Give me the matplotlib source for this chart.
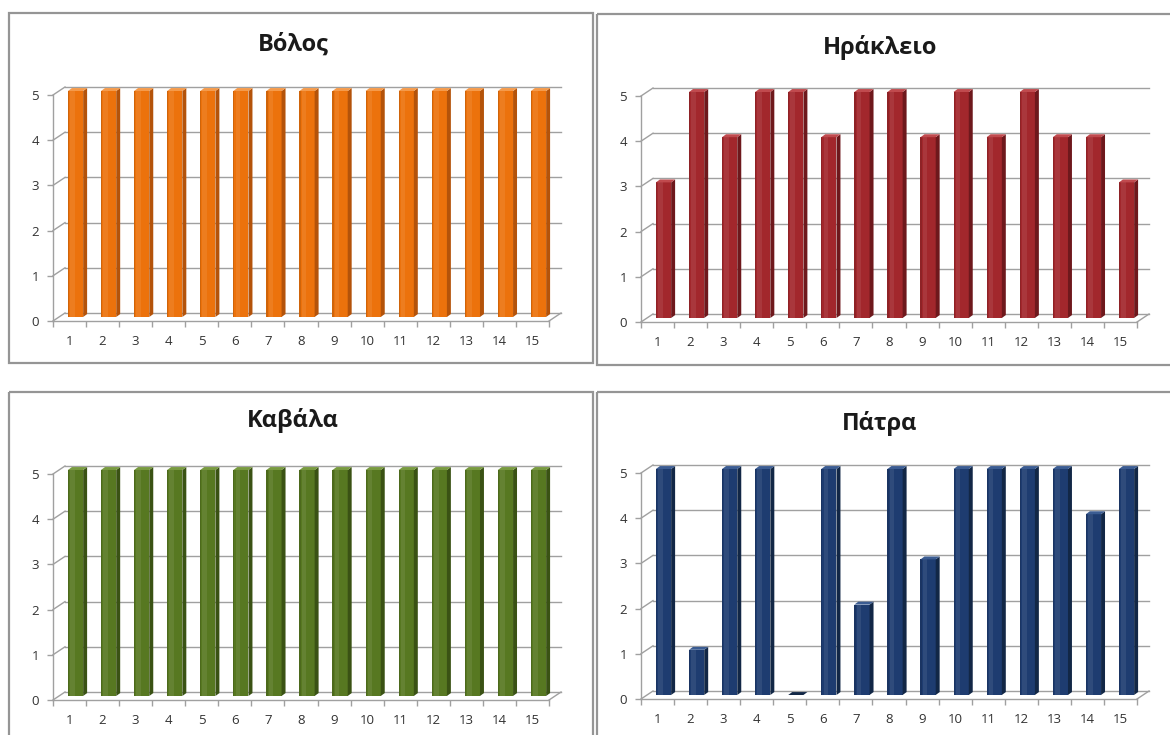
import matplotlib
matplotlib.use("Agg")
import matplotlib.pyplot as plt
from matplotlib.patches import Polygon, Rectangle
import numpy as np

# ---- data -------------------------------------------------------------
categories = list(range(1, 16))
volos = [5, 5, 5, 5, 5, 5, 5, 5, 5, 5, 5, 5, 5, 5, 5]
irakleio = [3, 5, 4, 5, 5, 4, 5, 5, 4, 5, 4, 5, 4, 4, 3]
kavala = [5, 5, 5, 5, 5, 5, 5, 5, 5, 5, 5, 5, 5, 5, 5]
patra = [5, 1, 5, 5, 0, 5, 2, 5, 3, 5, 5, 5, 5, 4, 5]
titles = ["Βόλος", "Ηράκλειο", "Καβάλα", "Πάτρα"]
y_ticks = [0, 1, 2, 3, 4, 5]

# front / side / top colours per city
palettes = [
    ("#EC720C", "#B4530A", "#F59A4A"),
    ("#A2272C", "#6E181C", "#C04A4E"),
    ("#577821", "#3A5214", "#789A40"),
    ("#1E3C70", "#122746", "#3B5C92"),
]

W, H = 1170, 735
fig = plt.figure(figsize=(W / 100, H / 100), dpi=100)
fig.patch.set_facecolor("white")
FONT = ["Open Sans", "DejaVu Sans"]

# frame layer in pixel coordinates
bg = fig.add_axes([0, 0, 1, 1])
bg.set_xlim(0, W)
bg.set_ylim(H, 0)
bg.axis("off")
frames = [(9, 13, 593, 363), (597, 14, 1173, 365), (9, 392, 593, 745), (597, 392, 1173, 745)]
for x0, y0, x1, y1 in frames:
    bg.add_patch(Rectangle((x0, y0), x1 - x0, y1 - y0, fill=False,
                           edgecolor="#959595", lw=1.6))

# geometry of each plot (front axis x, front zero y, title centre)
panels = [
    (53, 321, (293, 45)),
    (641, 322, (880, 47)),
    (53, 700, (293, 421)),
    (641, 699, (880, 423)),
]
series = [volos, irakleio, kavala, patra]

PX_CAT = 33.07   # pixels per category
PX_VAL = 45.2    # pixels per unit value
DEPTH_X, DEPTH_Y = 12, 8  # wall depth offset in pixels
dxd = DEPTH_X / PX_CAT
dyd = DEPTH_Y / PX_VAL
grid_col = "#A0A0A0"
ymax = y_ticks[-1]

for (ax0, y0, (tx, ty)), vals, title, (c_front, c_side, c_top) in zip(panels, series, titles, palettes):
    n = len(categories)
    width_px = n * PX_CAT + DEPTH_X
    height_px = ymax * PX_VAL + DEPTH_Y
    ax = fig.add_axes([ax0 / W, (H - y0) / H, width_px / W, height_px / H])
    ax.set_xlim(0.5, n + 0.5 + dxd)
    ax.set_ylim(0, ymax + dyd)
    ax.patch.set_alpha(0)

    # back wall gridlines and their diagonal links to the front axis
    for k in y_ticks:
        ax.plot([0.5 + dxd, n + 0.5 + dxd], [k + dyd, k + dyd], color=grid_col, lw=1.0, zorder=1, clip_on=False)
        ax.plot([0.5, 0.5 + dxd], [k, k + dyd], color=grid_col, lw=1.0, zorder=1, clip_on=False)
    # floor right edge
    ax.plot([n + 0.5, n + 0.5 + dxd], [0, dyd], color=grid_col, lw=1.0, zorder=1, clip_on=False)

    # bars: front faces, right sides and tops
    x = np.array(categories, dtype=float) + dxd / 2
    v = np.array(vals, dtype=float)
    bw = 0.46
    sdx, sdy = 0.12, 0.065
    ax.bar(x, v, width=bw, bottom=dyd / 2, color=c_front, edgecolor="none", zorder=3)
    for xi, vi in zip(x, v):
        xr = xi + bw / 2
        xl = xi - bw / 2
        base = dyd / 2
        top = base + vi
        ax.add_patch(Polygon([(xr, base), (xr + sdx, base + sdy), (xr + sdx, top + sdy), (xr, top)],
                             closed=True, facecolor=c_side, edgecolor="none", zorder=3))
        ax.add_patch(Polygon([(xl, top), (xr, top), (xr + sdx, top + sdy), (xl + sdx, top + sdy)],
                             closed=True, facecolor=c_top if vi > 0 else c_side, edgecolor="none", zorder=4))
        if vi > 0:
            # soft highlight and shaded left rim on the front face
            ax.add_patch(Rectangle((xl + bw * 0.15, base), bw * 0.3, vi, facecolor="white",
                                   alpha=0.08, edgecolor="none", zorder=3.5))
            ax.add_patch(Rectangle((xl, base), bw * 0.08, vi, facecolor="black",
                                   alpha=0.12, edgecolor="none", zorder=3.5))

    # axes lines
    for s in ("top", "right"):
        ax.spines[s].set_visible(False)
    ax.spines["left"].set_bounds(0, ymax)
    ax.spines["bottom"].set_bounds(0.5, n + 0.5)
    for s in ("left", "bottom"):
        ax.spines[s].set_color(grid_col)
        ax.spines[s].set_linewidth(1.0)
        ax.spines[s].set_zorder(2)

    ax.set_yticks(y_ticks)
    ax.set_yticklabels([str(t) for t in y_ticks], family=FONT, fontsize=9.5, color="#333333")
    ax.tick_params(axis="y", length=4, width=1.0, color=grid_col, pad=6)
    ax.set_xticks(categories)
    ax.set_xticklabels([str(c) for c in categories], family=FONT, fontsize=9.5, color="#333333")
    ax.tick_params(axis="x", which="major", length=0, pad=10)
    ax.set_xticks(np.arange(0.5, n + 1.0, 1.0), minor=True)
    ax.tick_params(axis="x", which="minor", length=4, width=1.0, color=grid_col)

    fig.text(tx / W, 1 - ty / H, title, ha="center", va="center", family=FONT,
             fontsize=17, fontweight="bold", color="#1A1A1A")

fig.savefig("out.png", dpi=100, facecolor="white")
